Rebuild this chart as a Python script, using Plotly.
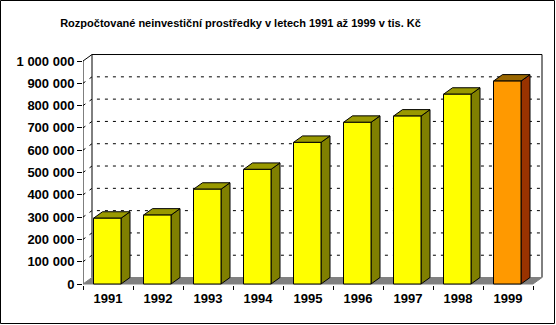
import plotly.graph_objects as go

# Budgeted non-investment funds, thousands CZK
years = ["1991", "1992", "1993", "1994", "1995", "1996", "1997", "1998", "1999"]
values = [295000, 309000, 425000, 514000, 635000, 725000, 753000, 851000, 910000]
tick_vals = [0, 100000, 200000, 300000, 400000, 500000, 600000, 700000, 800000, 900000, 1000000]
tick_text = ["0", "100 000", "200 000", "300 000", "400 000", "500 000",
             "600 000", "700 000", "800 000", "900 000", "1 000 000"]
title_text = "Rozpočtované neinvestiční prostředky v letech 1991 až 1999 v tis. Kč"

# colour sets: (front, top, side)
yellow = ("#FFFF00", "#999900", "#808000")
orange = ("#FF9900", "#996600", "#993300")
bar_colors = [yellow] * 8 + [orange]

# pseudo-3D depth offset in axis units
DX = 0.18
DY = 29000
YMAX = tick_vals[-1]
N = len(years)
BAR_L, BAR_W = 0.21, 0.55

W, H = 556, 325
ML, MR, MT, MB = 83, 8, 52, 40
PW, PH = W - ML - MR, H - MT - MB
PX_Y = 1000000 / 223.0
x_range = [0, PW / 50.0]
y_range = [-PX_Y, (PH - 1) * PX_Y]

fig = go.Figure()


def poly(xs, ys, fill, line="black", width=1):
    fig.add_trace(go.Scatter(
        x=xs, y=ys, mode="lines", fill="toself", fillcolor=fill,
        line=dict(color=line, width=width), hoverinfo="skip", showlegend=False))


def path(xs, ys, dash="solid", color="black"):
    fig.add_trace(go.Scatter(
        x=xs, y=ys, mode="lines", line=dict(color=color, width=1, dash=dash),
        hoverinfo="skip", showlegend=False))


# back wall and left side wall
poly([DX, DX, N + DX, N + DX, DX], [DY, YMAX + DY, YMAX + DY, DY, DY], "white", line="white")
poly([0, 0, DX, DX, 0], [0, YMAX, YMAX + DY, DY, 0], "white", line="white")

# gridlines on the walls
gx, gy = [], []
for v in tick_vals[1:-1]:
    gx += [0, DX, N + DX, None]
    gy += [v, v + DY, v + DY, None]
path(gx, gy, dash="3px,5px")

# wall outline and front value axis
path([0, 0, DX, N + DX, N + DX], [0, YMAX, YMAX + DY, YMAX + DY, DY])
path([DX, DX], [DY, YMAX + DY])

# floor
poly([0, N, N + DX, DX, 0], [0, 0, DY, DY, 0], "#808080", line="#808080")

# columns: side, top, front
for i, (v, c) in enumerate(zip(values, bar_colors)):
    x0 = i + BAR_L
    x1 = x0 + BAR_W
    poly([x1, x1 + DX, x1 + DX, x1, x1], [0, DY, v + DY, v, 0], c[2])
    poly([x0, x0 + DX, x1 + DX, x1, x0], [v, v + DY, v + DY, v, v], c[1])
    poly([x0, x0, x1, x1, x0], [0, v, v, 0, 0], c[0])

font = dict(family="Liberation Sans, Arial, sans-serif", size=13, color="black", weight="bold")

# outer frame, given in pixels and converted to paper units
frame_l, frame_r, frame_t, frame_b = 0.5, 554.5, 0.5, 323.5

fig.update_layout(
    width=W, height=H,
    margin=dict(l=ML, r=MR, t=MT, b=MB),
    paper_bgcolor="white", plot_bgcolor="white",
    showlegend=False,
    title=dict(text=title_text, x=0.4326, xref="container", xanchor="center",
               y=1 - 23 / H, yref="container", yanchor="middle",
               font=dict(family="Liberation Sans, Arial, sans-serif", size=11,
                         color="black", weight="bold")),
    xaxis=dict(range=x_range, showgrid=False, zeroline=False, showline=False,
               tickmode="array", tickvals=[i + 0.5 for i in range(N)], ticktext=years,
               ticks="", tickfont=font, ticklabelstandoff=4,
               minor=dict(tickmode="array", tickvals=list(range(N + 1)),
                          ticks="outside", ticklen=4, tickcolor="black", showgrid=False)),
    yaxis=dict(range=y_range, showgrid=False, zeroline=False, showline=False,
               tickmode="array", tickvals=tick_vals, ticktext=tick_text,
               ticks="outside", ticklen=5, tickcolor="black", tickfont=font),
    shapes=[dict(type="rect", xref="paper", yref="paper",
                 x0=(frame_l - ML) / PW, x1=(frame_r - ML) / PW,
                 y0=(H - MB - frame_b) / PH, y1=(H - MB - frame_t) / PH,
                 line=dict(color="black", width=1), layer="above")],
)

fig.write_html("out.html")
